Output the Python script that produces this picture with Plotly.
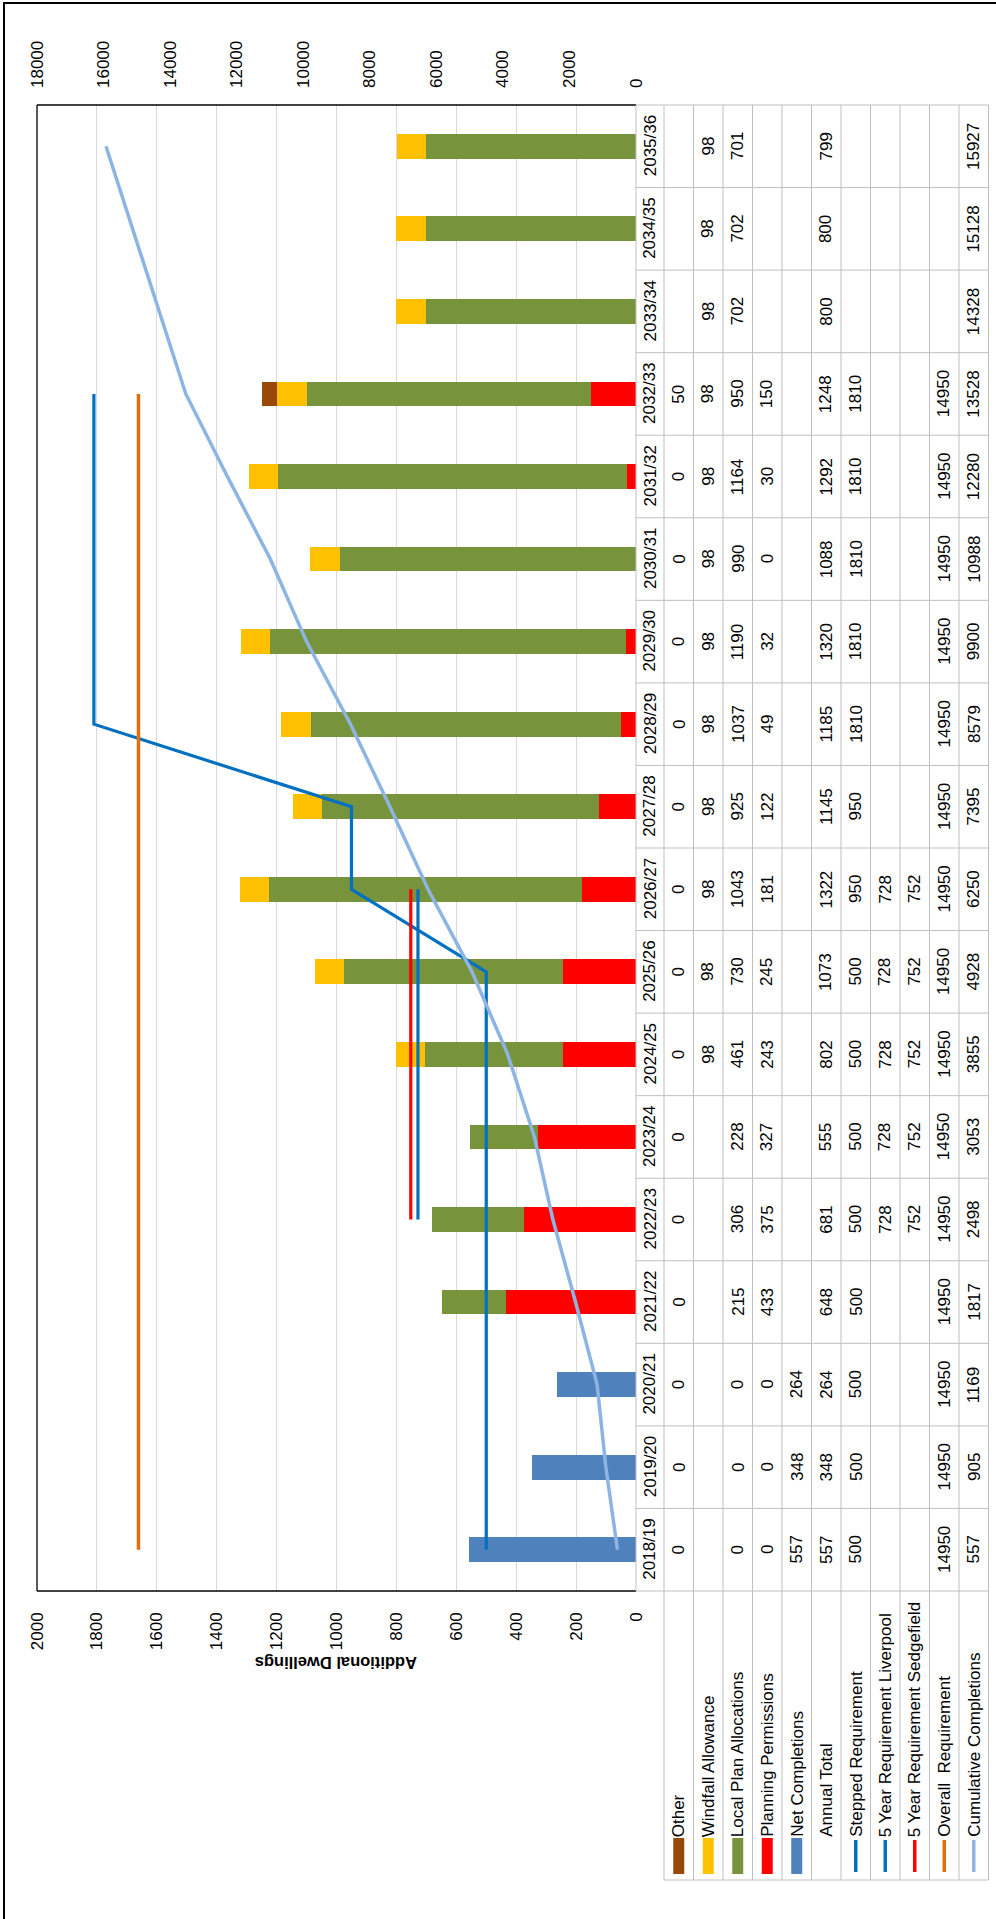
import plotly.graph_objects as go

# ---------------- data ----------------
years = ["2018/19", "2019/20", "2020/21", "2021/22", "2022/23", "2023/24", "2024/25", "2025/26", "2026/27",
         "2027/28", "2028/29", "2029/30", "2030/31", "2031/32", "2032/33", "2033/34", "2034/35", "2035/36"]
other = [0, 0, 0, 0, 0, 0, 0, 0, 0, 0, 0, 0, 0, 0, 50, None, None, None]
windfall = [None, None, None, None, None, None, 98, 98, 98, 98, 98, 98, 98, 98, 98, 98, 98, 98]
local_plan = [0, 0, 0, 215, 306, 228, 461, 730, 1043, 925, 1037, 1190, 990, 1164, 950, 702, 702, 701]
planning = [0, 0, 0, 433, 375, 327, 243, 245, 181, 122, 49, 32, 0, 30, 150, None, None, None]
net_completions = [557, 348, 264, None, None, None, None, None, None, None, None, None, None, None, None, None, None, None]
annual_total = [557, 348, 264, 648, 681, 555, 802, 1073, 1322, 1145, 1185, 1320, 1088, 1292, 1248, 800, 800, 799]
stepped = [500, 500, 500, 500, 500, 500, 500, 500, 950, 950, 1810, 1810, 1810, 1810, 1810, None, None, None]
liverpool = [None, None, None, None, 728, 728, 728, 728, 728, None, None, None, None, None, None, None, None, None]
sedgefield = [None, None, None, None, 752, 752, 752, 752, 752, None, None, None, None, None, None, None, None, None]
overall = [14950, 14950, 14950, 14950, 14950, 14950, 14950, 14950, 14950, 14950, 14950, 14950, 14950, 14950, 14950,
           None, None, None]
cumulative = [557, 905, 1169, 1817, 2498, 3053, 3855, 4928, 6250, 7395, 8579, 9900, 10988, 12280, 13528, 14328,
              15128, 15927]

primary_ticks = [0, 200, 400, 600, 800, 1000, 1200, 1400, 1600, 1800, 2000]
secondary_ticks = [0, 2000, 4000, 6000, 8000, 10000, 12000, 14000, 16000, 18000]
axis_title = "Additional Dwellings"

# ---------------- styles ----------------
C_OTHER = "#984807"
C_WIND = "#FFC000"
C_LPA = "#77933C"
C_PP = "#FF0000"
C_NC = "#4F81BD"
C_STEP = "#0070C0"
C_LIV = "#0070C0"
C_SED = "#FF0000"
C_OVR = "#E46C0A"
C_CUM = "#8DB4E2"

series_table = [
    ("Other", other, "bar", C_OTHER),
    ("Windfall Allowance", windfall, "bar", C_WIND),
    ("Local Plan Allocations", local_plan, "bar", C_LPA),
    ("Planning Permissions", planning, "bar", C_PP),
    ("Net Completions", net_completions, "bar", C_NC),
    ("Annual Total", annual_total, None, None),
    ("Stepped Requirement", stepped, "line", C_STEP),
    ("5 Year Requirement Liverpool", liverpool, "line", C_LIV),
    ("5 Year Requirement Sedgefield", sedgefield, "line", C_SED),
    ("Overall\u00a0 Requirement", overall, "line", C_OVR),
    ("Cumulative Completions", cumulative, "line", C_CUM),
]

FONT = "'Liberation Sans', Arial, sans-serif"
FS = 17
W, H = 996, 1919
PL, PR, PT, PB = 37, 636, 105, 1591


def px(x):
    return (x - PL) / (PR - PL)


def py(y):
    return (PB - y) / (PB - PT)


fig = go.Figure()

# stacked bars (base outward): net completions, planning, local plan, windfall, other
for name, vals, col in [("Net Completions", net_completions, C_NC),
                        ("Planning Permissions", planning, C_PP),
                        ("Local Plan Allocations", local_plan, C_LPA),
                        ("Windfall Allowance", windfall, C_WIND),
                        ("Other", other, C_OTHER)]:
    fig.add_trace(go.Bar(y=years, x=vals, name=name, orientation="h", width=0.3,
                         marker=dict(color=col, line=dict(width=0)), xaxis="x", yaxis="y"))

for name, vals, col in [("Stepped Requirement", stepped, C_STEP),
                        ("5 Year Requirement Liverpool", liverpool, C_LIV),
                        ("5 Year Requirement Sedgefield", sedgefield, C_SED)]:
    fig.add_trace(go.Scatter(y=years, x=vals, name=name, mode="lines",
                             line=dict(color=col, width=3.2), xaxis="x", yaxis="y"))

for name, vals, col in [("Overall Requirement", overall, C_OVR),
                        ("Cumulative Completions", cumulative, C_CUM)]:
    fig.add_trace(go.Scatter(y=years, x=vals, name=name, mode="lines",
                             line=dict(color=col, width=3.5), xaxis="x2", yaxis="y"))

shapes = []
annotations = []
GRID = "#BFBFBF"

# outer chart border
shapes.append(dict(type="rect", xref="paper", yref="paper", x0=px(4), x1=px(1200), y0=py(3), y1=py(2200),
                   line=dict(color="black", width=2), fillcolor="rgba(0,0,0,0)", layer="above"))
# plot area border
for (x0, y0, x1, y1) in [(PL, PT, PL, PB), (PL, PT, PR, PT), (PL, PB, PR, PB)]:
    shapes.append(dict(type="line", xref="paper", yref="paper", x0=px(x0), x1=px(x1), y0=py(y0), y1=py(y1),
                       line=dict(color="black", width=1.3), layer="above"))

# table geometry
n = len(years)
cat_h = (PB - PT) / n
year_col = (636, 664)
col_w = 29.5
ser_edges = [664 + col_w * i for i in range(len(series_table) + 1)]
HEADER_BOTTOM = 1880

for k in range(n + 1):
    yy = PB - k * cat_h
    shapes.append(dict(type="line", xref="paper", yref="paper", x0=px(636), x1=px(ser_edges[-1]),
                       y0=py(yy), y1=py(yy), line=dict(color=GRID, width=1)))
shapes.append(dict(type="line", xref="paper", yref="paper", x0=px(664), x1=px(ser_edges[-1]),
                   y0=py(HEADER_BOTTOM), y1=py(HEADER_BOTTOM), line=dict(color=GRID, width=1)))
shapes.append(dict(type="line", xref="paper", yref="paper", x0=px(636), x1=px(636),
                   y0=py(PT), y1=py(PB), line=dict(color=GRID, width=1)))
for e in ser_edges:
    shapes.append(dict(type="line", xref="paper", yref="paper", x0=px(e), x1=px(e),
                       y0=py(PT), y1=py(HEADER_BOTTOM), line=dict(color=GRID, width=1)))

tfont = dict(family=FONT, size=FS, color="black")

for yr in years:
    annotations.append(dict(xref="paper", yref="y", x=px((year_col[0] + year_col[1]) / 2), y=yr, text=yr,
                            textangle=-90, showarrow=False, xanchor="center", yanchor="middle", font=tfont))

for i, (label, vals, kind, col) in enumerate(series_table):
    cx = (ser_edges[i] + ser_edges[i + 1]) / 2
    for yr, v in zip(years, vals):
        if v is None:
            continue
        annotations.append(dict(xref="paper", yref="y", x=px(cx), y=yr, text=str(v), textangle=-90,
                                showarrow=False, xanchor="center", yanchor="middle", font=tfont))
    annotations.append(dict(xref="paper", yref="paper", x=px(cx), y=py(1838), text=label, textangle=-90,
                            showarrow=False, xanchor="center", yanchor="bottom", font=tfont,
                            borderpad=0))
    if kind == "bar":
        shapes.append(dict(type="rect", xref="paper", yref="paper", x0=px(cx - 5.5), x1=px(cx + 5.5),
                           y0=py(1838), y1=py(1874), fillcolor=col, line=dict(width=0)))
    elif kind == "line":
        shapes.append(dict(type="line", xref="paper", yref="paper", x0=px(cx), x1=px(cx),
                           y0=py(1840), y1=py(1872), line=dict(color=col, width=3.5)))

annotations.append(dict(xref="paper", yref="paper", x=px((PL + PR) / 2), y=py(1663),
                        text="<b>" + axis_title + "</b>", textangle=180, showarrow=False,
                        xanchor="center", yanchor="middle", font=dict(family=FONT, size=16.5, color="black")))

fig.update_layout(
    width=W, height=H, autosize=False,
    margin=dict(l=PL, r=W - PR, t=PT, b=H - PB, pad=0),
    paper_bgcolor="white", plot_bgcolor="white",
    barmode="stack", showlegend=False, bargap=0.7,
    font=dict(family=FONT, size=FS, color="black"),
    xaxis=dict(range=[2000, 0], tickmode="array", tickvals=primary_ticks,
               ticktext=[str(t) for t in primary_ticks], tickangle=-90,
               showgrid=True, gridcolor="#D9D9D9", gridwidth=1, zeroline=False, showline=False,
               ticks="", ticklabelstandoff=17, tickfont=dict(family=FONT, size=FS, color="black"),
               fixedrange=True),
    xaxis2=dict(range=[18000, 0], overlaying="x", side="top", tickmode="array", tickvals=secondary_ticks,
                ticktext=[str(t) for t in secondary_ticks], tickangle=-90,
                showgrid=False, zeroline=False, showline=False, ticks="", ticklabelstandoff=16,
                tickfont=dict(family=FONT, size=FS, color="black"), fixedrange=True),
    yaxis=dict(type="category", categoryorder="array", categoryarray=years, range=[-0.5, n - 0.5],
               showticklabels=False, showgrid=False, zeroline=False, showline=False, ticks="",
               fixedrange=True),
    shapes=shapes,
    annotations=annotations,
)

fig.write_html("out.html")
